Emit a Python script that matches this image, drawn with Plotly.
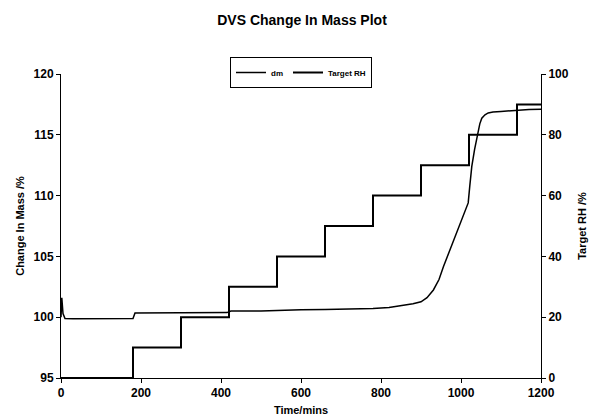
import plotly.graph_objects as go

# dm (change in mass) trace
dm_time = [0, 2, 5, 10, 30, 100, 175, 180, 185, 250, 300, 350, 415, 420, 425, 500, 540, 600, 660,
           720, 780, 820, 850, 880, 900, 915, 931, 945, 956, 970, 985, 1000, 1018, 1022, 1027, 1034,
           1041, 1047, 1052, 1060, 1068, 1080, 1100, 1135, 1143, 1170, 1200]
dm_mass = [100.0, 101.6, 100.3, 99.9, 99.88, 99.87, 99.86, 99.9, 100.35, 100.37, 100.4, 100.42, 100.38,
           100.45, 100.5, 100.52, 100.58, 100.62, 100.63, 100.66, 100.72, 100.8, 100.92, 101.1, 101.27,
           101.6, 102.24, 103.1, 104.15, 105.3, 106.6, 107.9, 109.4, 110.8, 112.4, 113.8, 115.1, 115.9,
           116.36, 116.65, 116.8, 116.88, 116.92, 117.0, 117.05, 117.08, 117.1]

# Target RH step trace
rh_time = [0, 180, 300, 420, 540, 660, 780, 900, 1020, 1140, 1200]
rh_value = [0, 10, 20, 30, 40, 50, 60, 70, 80, 90, 90]

x_ticks = [0, 200, 400, 600, 800, 1000, 1200]
y1_ticks = [95, 100, 105, 110, 115, 120]
y2_ticks = [0, 20, 40, 60, 80, 100]

FONT = "Liberation Sans, Arial, sans-serif"

fig = go.Figure()
fig.add_trace(go.Scatter(x=dm_time, y=dm_mass, mode="lines", name="dm",
                         line=dict(color="black", width=1.5), yaxis="y"))
fig.add_trace(go.Scatter(x=rh_time, y=rh_value, mode="lines", name="Target RH",
                         line=dict(color="black", width=2, shape="hv"), yaxis="y2"))

axis_font = dict(family=FONT, size=12, color="black", weight="bold")
title_font = dict(family=FONT, size=11, color="black", weight="bold")

fig.update_layout(
    width=593, height=418,
    margin=dict(l=61, r=52, t=74, b=40, autoexpand=False),
    paper_bgcolor="white", plot_bgcolor="white",
    font=dict(family=FONT, color="black"),
    title=dict(text="DVS Change In Mass Plot", x=302/593, xanchor="center",
               y=1 - 20/418, yanchor="middle", yref="container",
               font=dict(family=FONT, size=14, color="black", weight="bold")),
    showlegend=True,
    legend=dict(orientation="h", x=0.5, xanchor="center", y=1 + (74 - 57) / 304, yanchor="top",
                bordercolor="black", borderwidth=1, bgcolor="white",
                font=dict(family=FONT, size=8, color="black", weight="bold"),
                itemwidth=30, tracegroupgap=0),
    xaxis=dict(range=[0, 1200], tickvals=x_ticks, showgrid=False, zeroline=False,
               showline=True, linecolor="black", linewidth=1, ticks="outside",
               ticklen=4, tickcolor="black", tickfont=axis_font, automargin=False,
               title=dict(text="Time/mins", font=title_font, standoff=6)),
    yaxis=dict(range=[95, 120], tickvals=y1_ticks, showgrid=False, zeroline=False,
               showline=True, linecolor="black", linewidth=1, ticks="outside",
               ticklen=4, tickcolor="black", tickfont=axis_font, automargin=False,
               title=dict(text="Change In Mass /%", font=title_font, standoff=6)),
    yaxis2=dict(range=[0, 100], tickvals=y2_ticks, overlaying="y", side="right",
                showgrid=False, zeroline=False, showline=True, linecolor="black", linewidth=1,
                ticks="outside", ticklen=4, tickcolor="black", tickfont=axis_font, automargin=False,
                title=dict(text="Target RH /%", font=title_font, standoff=10)),
)

fig.write_html("out.html")
